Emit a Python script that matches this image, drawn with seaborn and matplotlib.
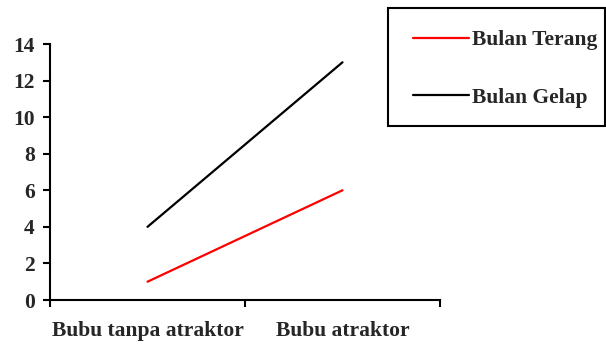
import matplotlib
matplotlib.use("Agg")
import matplotlib.pyplot as plt
from matplotlib.patches import Rectangle
import seaborn as sns
import pandas as pd

categories = ["Bubu tanpa atraktor", "Bubu atraktor"]
bulan_terang = [1, 6]
bulan_gelap = [4, 13]
series_names = ["Bulan Terang", "Bulan Gelap"]
colors = {"Bulan Terang": "#ff0000", "Bulan Gelap": "#000000"}
y_ticks = [0, 2, 4, 6, 8, 10, 12, 14]

sns.set_style("white")
plt.rcParams["font.family"] = ["Liberation Serif", "DejaVu Serif"]
plt.rcParams["font.weight"] = "bold"
FS = 15.5

rows = []
for name, vals in zip(series_names, [bulan_terang, bulan_gelap]):
    for i, v in enumerate(vals):
        rows.append({"pos": i, "value": v, "series": name})
df = pd.DataFrame(rows)

fig = plt.figure(figsize=(6.06, 3.44), dpi=100)
ax = fig.add_axes([50 / 606, 1 - 300 / 344, 390 / 606, 256 / 344])

sns.lineplot(data=df, x="pos", y="value", hue="series", hue_order=series_names,
             palette=colors, linewidth=1.6, ax=ax, legend=False)

ax.set_xlim(-0.5, len(categories) - 0.5)
ax.set_ylim(0, 14)
ax.set_yticks(y_ticks)
ax.set_yticklabels([str(t) for t in y_ticks], fontsize=FS, fontweight="bold")
ax.set_xticks([-0.5, 0.5, 1.5])
ax.set_xticklabels([])
ax.set_xticks(range(len(categories)), minor=True)
ax.set_xticklabels(categories, minor=True, fontsize=FS, fontweight="bold")
ax.tick_params(axis="x", which="major", bottom=True, direction="out",
               length=5, width=1.5, color="black")
ax.tick_params(axis="x", which="minor", bottom=True, length=0, pad=15)
ax.tick_params(axis="y", left=True, direction="out", length=5, width=1.5,
               color="black", pad=6)
ax.set_xlabel("")
ax.set_ylabel("")

for side in ["top", "right"]:
    ax.spines[side].set_visible(False)
for side in ["left", "bottom"]:
    ax.spines[side].set_color("black")
    ax.spines[side].set_linewidth(1.5)

# Legend box
fig.patches.append(Rectangle((388 / 606, 1 - 126 / 344), 217 / 606, 118 / 344,
                             transform=fig.transFigure, fill=False,
                             edgecolor="black", linewidth=1.5))
handles = [plt.Line2D([], [], color=colors[n], linewidth=1.6) for n in series_names]
fig.legend(handles, series_names, loc="upper left",
           bbox_to_anchor=(413 / 606, 1 - 30 / 344), frameon=False,
           prop={"family": "Liberation Serif", "weight": "bold", "size": FS},
           handlelength=2.6, handletextpad=0.15, labelspacing=1.75,
           borderpad=0, borderaxespad=0)

fig.savefig("out.png", dpi=100)
